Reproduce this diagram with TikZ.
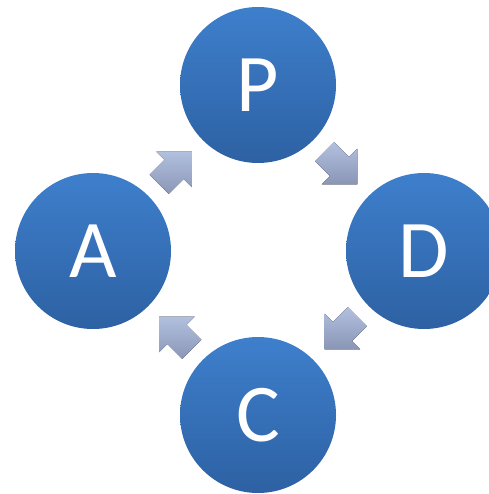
\documentclass[tikz,border=0pt]{standalone}
\usepackage{fontspec}
\newfontfamily\stagefont{Carlito}
\usepackage{tikz}
\usetikzlibrary{calc}

\definecolor{stagetop}{RGB}{62,127,204}
\definecolor{stagebot}{RGB}{45,97,163}
\definecolor{arrowtop}{RGB}{178,192,224}
\definecolor{arrowbot}{RGB}{138,150,182}

% block arrow: #1 centre, #2 direction
\newcommand{\flowarrow}[2]{%
  \fill[flow] ($(#1)+(#2:-23)+({#2+90}:13.5)$) -- ($(#1)+(#2:-2)+({#2+90}:13.5)$)
    -- ($(#1)+(#2:-2)+({#2+90}:25)$) -- ($(#1)+(#2:23)$)
    -- ($(#1)+(#2:-2)+({#2-90}:25)$) -- ($(#1)+(#2:-2)+({#2-90}:13.5)$)
    -- ($(#1)+(#2:-23)+({#2-90}:13.5)$) -- cycle;}

\begin{document}
\begin{tikzpicture}[
    x=1pt, y=1pt,
    stage/.style={circle, minimum size=156pt, inner sep=0pt, top color=stagetop, bottom color=stagebot, text=white, font=\stagefont\fontsize{82}{82}\selectfont},
    flow/.style={top color=arrowtop, bottom color=arrowbot}
]
\useasboundingbox (0,0) rectangle (488,-494);

% Stages
\node (p) [stage] at (258,-85) {P};
\node (d) [stage] at (424,-251) {D};
\node (c) [stage] at (258,-415) {C};
\node (a) [stage] at (93,-251) {A};

% Arrows
\coordinate (ap) at ($(a)!0.5!(p)$);
\coordinate (pd) at ($(p)!0.5!(d)$);
\coordinate (dc) at ($(d)!0.5!(c)$);
\coordinate (ca) at ($(c)!0.5!(a)$);
\flowarrow{ap}{45}
\flowarrow{pd}{-45}
\flowarrow{dc}{-135}
\flowarrow{ca}{135}

\end{tikzpicture}
\end{document}
